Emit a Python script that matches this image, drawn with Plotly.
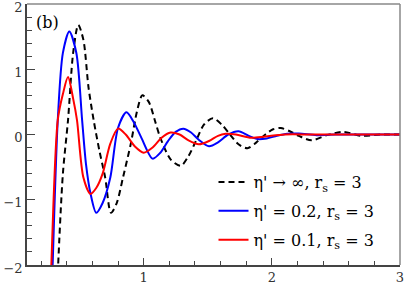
import plotly.graph_objects as go

# curve data (panel b)
x_inf = [0.31, 0.333, 0.37, 0.41, 0.45, 0.49, 0.53, 0.57, 0.61, 0.655, 0.70, 0.745, 0.79, 0.84, 0.90,
         0.95, 0.99, 1.04, 1.09, 1.13, 1.21, 1.29, 1.35, 1.41, 1.47, 1.54, 1.61, 1.67, 1.74, 1.81,
         1.88, 1.95, 2.01, 2.07, 2.14, 2.21, 2.31, 2.43, 2.56, 2.70, 2.85, 3.0]
y_inf = [-3.2, -2.0, -0.6, 0.22, 1.25, 1.68, 1.45, 0.72, 0.22, -0.25, -0.66, -1.2, -1.05, -0.65, -0.14,
         0.37, 0.6, 0.5, 0.2, -0.05, -0.38, -0.48, -0.33, -0.09, 0.15, 0.25, 0.15, 0.01, -0.15, -0.21,
         -0.12, 0.0, 0.08, 0.1, 0.05, -0.02, -0.09, -0.01, 0.04, -0.02, 0.0, 0.0]

x_02 = [0.27, 0.29, 0.33, 0.37, 0.42, 0.475, 0.52, 0.55, 0.585, 0.63, 0.68, 0.74, 0.80, 0.866, 0.92,
        0.98, 1.07, 1.13, 1.19, 1.25, 1.31, 1.37, 1.43, 1.51, 1.58, 1.66, 1.74, 1.82, 1.89, 1.96,
        2.04, 2.12, 2.21, 2.35, 2.5, 2.7, 3.0]
y_02 = [-3.4, -2.0, 0.22, 1.25, 1.58, 1.25, 0.22, -0.45, -0.9, -1.2, -1.05, -0.66, 0.1, 0.34, 0.2,
        -0.04, -0.37, -0.28, -0.1, 0.04, 0.09, 0.03, -0.08, -0.18, -0.12, 0.0, 0.05, -0.02, -0.07, -0.06,
        -0.02, 0.01, 0.015, -0.01, 0.0, 0.0, 0.0]

x_01 = [0.26, 0.28, 0.33, 0.37, 0.41, 0.45, 0.48, 0.53, 0.585, 0.63, 0.68, 0.74, 0.80, 0.86, 0.93,
        1.0, 1.07, 1.14, 1.21, 1.28, 1.35, 1.43, 1.51, 1.58, 1.64, 1.72, 1.84, 1.95, 2.1, 2.3,
        2.5, 2.7, 3.0]
y_01 = [-3.4, -2.0, 0.22, 0.62, 0.88, 0.55, 0.22, -0.66, -0.91, -0.82, -0.6, -0.14, 0.09, 0.0, -0.18,
        -0.28, -0.2, -0.05, 0.03, 0.0, -0.09, -0.15, -0.1, -0.02, 0.01, 0.0, -0.05, -0.03, 0.0, 0.0,
        0.0, 0.0, 0.0]

names = ["η' → ∞, r<sub>s</sub> = 3", "η' = 0.2, r<sub>s</sub> = 3", "η' = 0.1, r<sub>s</sub> = 3"]

fig = go.Figure()
fig.add_trace(go.Scatter(x=x_inf, y=y_inf, mode='lines', name=names[0], legendgroup='a',
                         line=dict(color='black', width=2, dash='6px,4px', shape='spline', smoothing=0.8)))
fig.add_trace(go.Scatter(x=x_02, y=y_02, mode='lines', name=names[1], legendgroup='b',
                         line=dict(color='#0000ff', width=2, shape='spline', smoothing=0.8)))
fig.add_trace(go.Scatter(x=x_01, y=y_01, mode='lines', name=names[2], legendgroup='c',
                         line=dict(color='#ff0000', width=2, shape='spline', smoothing=0.8)))

serif = 'DejaVu Serif'
axis_font = dict(family=serif, size=13, color='#333333')
fig.update_layout(
    width=407, height=291,
    margin=dict(l=27, r=7, t=4, b=26),
    paper_bgcolor='white', plot_bgcolor='white',
    font=dict(family=serif, size=16, color='black'),
    legend=dict(x=0.5, y=0.03, xanchor='left', yanchor='bottom', bgcolor='rgba(0,0,0,0)',
                tracegroupgap=5, font=dict(family=serif, size=16)),
    xaxis=dict(range=[0.09, 3], showgrid=False, zeroline=False, showline=True, linecolor='#444444',
               linewidth=1.5, ticks='inside', ticklen=7, tickcolor='#444444', tickvals=[1, 2, 3],
               tickfont=axis_font, ticklabeloverflow='allow', automargin=False,
               minor=dict(ticks='inside', ticklen=4, dtick=0.2, tick0=0, tickcolor='#444444')),
    yaxis=dict(range=[-2, 2], showgrid=False, zeroline=False, showline=True, linecolor='#444444',
               linewidth=1.5, ticks='inside', ticklen=8, tickcolor='#444444', dtick=1,
               tickfont=axis_font, tickformat='d', ticklabeloverflow='allow', automargin=False,
               ticklabelshift=3,
               minor=dict(ticks='inside', ticklen=5, dtick=0.2, tickcolor='#444444')),
    shapes=[dict(type='line', xref='paper', yref='paper', x0=0, x1=1, y0=1, y1=1,
                 line=dict(color='#888888', width=1.5)),
            dict(type='line', xref='paper', yref='paper', x0=1, x1=1, y0=0, y1=1,
                 line=dict(color='#888888', width=1.5))],
    annotations=[dict(text='(b)', xref='paper', yref='paper', x=0.02, y=0.975, xanchor='left',
                      yanchor='top', showarrow=False, font=dict(family=serif, size=16))],
)

# drop the default page margin so the figure sits at the window's corner
fig.write_html("out.html", config={'displayModeBar': False},
               post_script="document.body.style.margin='0';document.body.style.overflow='hidden';")
